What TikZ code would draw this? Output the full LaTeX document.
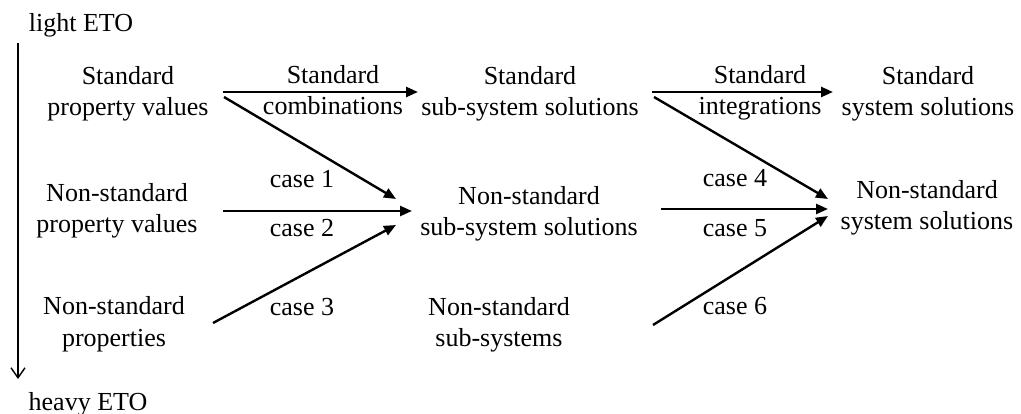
\documentclass[tikz,border=0pt]{standalone}
\usepackage{fontspec}
\setmainfont{Liberation Serif}
\usetikzlibrary{arrows.meta}
\begin{document}
\begin{tikzpicture}[x=1pt,y=-1pt,
  lbl/.style={align=center,anchor=base,inner sep=0pt,font=\fontsize{26}{31.5}\selectfont},
  conn/.style={line width=2.4pt,-{Triangle[length=12pt,width=10pt]}},
  axis/.style={line width=1.4pt,-{Straight Barb[length=10pt,width=14pt,line width=1.4pt]}}]
\useasboundingbox (0,0) rectangle (1021,414);
% axis
\node[lbl] (light) at (81,32) {light ETO};
\node[lbl] (heavy) at (88,410) {heavy ETO};
\coordinate (axtop) at (18,43);
\coordinate (axbot) at (18,379);
\draw[axis] (axtop) -- (axbot);
% column 1 (anchor = baseline of last line)
\node[lbl] (spv) at (128,116) {Standard\\property values};
\node[lbl] (npv) at (117,233) {Non-standard\\property values};
\node[lbl] (np)  at (114,346) {Non-standard\\properties};
% column 3
\node[lbl] (sss) at (530,116) {Standard\\sub-system solutions};
\node[lbl] (nss) at (529,236) {Non-standard\\sub-system solutions};
\node[lbl] (nsub) at (499,347) {Non-standard\\sub-systems};
% column 5
\node[lbl] (ssy) at (928,116) {Standard\\system solutions};
\node[lbl] (nsy) at (927,230) {Non-standard\\system solutions};
% arrow labels
\node[lbl] (sc) at (333,115) {Standard\\combinations};
\node[lbl] (c1) at (302,188) {case 1};
\node[lbl] (c2) at (302,237) {case 2};
\node[lbl] (c3) at (302,316) {case 3};
\node[lbl] (si) at (760,115) {Standard\\integrations};
\node[lbl] (c4) at (735,187) {case 4};
\node[lbl] (c5) at (735,237) {case 5};
\node[lbl] (c6) at (735,315) {case 6};
% arrow end points
\coordinate (a1s) at (223,92);  \coordinate (a1e) at (418,92);
\coordinate (a2s) at (224,97);  \coordinate (a2e) at (396,199);
\coordinate (a3s) at (223,211); \coordinate (a3e) at (412,211);
\coordinate (a4s) at (213,323); \coordinate (a4e) at (396,225);
\coordinate (b1s) at (652,92);  \coordinate (b1e) at (833,92);
\coordinate (b2s) at (654,97);  \coordinate (b2e) at (828,199);
\coordinate (b3s) at (661,209); \coordinate (b3e) at (828,209);
\coordinate (b4s) at (653,325); \coordinate (b4e) at (828,216);
\draw[conn] (a1s) -- (a1e);
\draw[conn] (a2s) -- (a2e);
\draw[conn] (a3s) -- (a3e);
\draw[conn] (a4s) -- (a4e);
\draw[conn] (b1s) -- (b1e);
\draw[conn] (b2s) -- (b2e);
\draw[conn] (b3s) -- (b3e);
\draw[conn] (b4s) -- (b4e);
\end{tikzpicture}
\end{document}
